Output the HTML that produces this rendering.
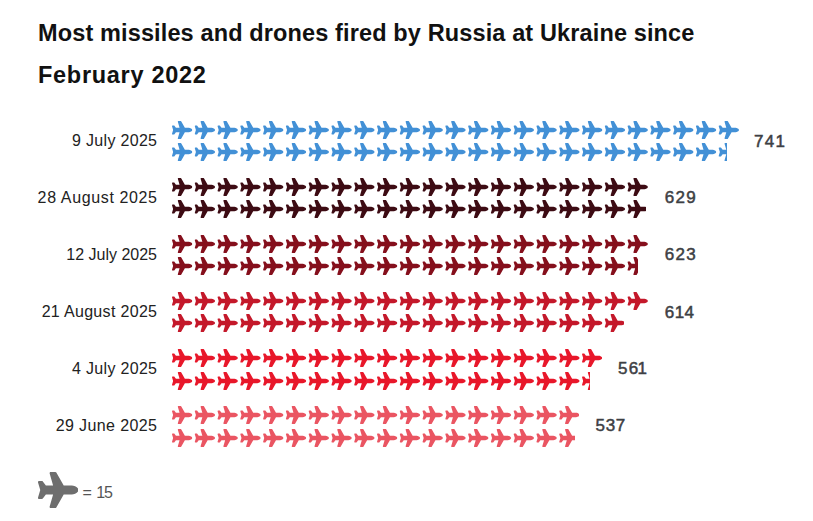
<!DOCTYPE html>
<html><head><meta charset="utf-8"><title>chart</title>
<style>
html,body{margin:0;padding:0;background:#fff;}
body{width:813px;height:521px;position:relative;overflow:hidden;font-family:"Liberation Sans",sans-serif;}
.t{position:absolute;left:38px;font-weight:bold;font-size:23.5px;color:#111;white-space:nowrap;line-height:40px;letter-spacing:0px;}
.l{position:absolute;white-space:nowrap;font-size:16px;color:#222;text-align:right;line-height:20px;}
.n{position:absolute;white-space:nowrap;font-size:17px;color:#3d4044;-webkit-text-stroke:0.5px #3d4044;line-height:20px;letter-spacing:1.3px;}
.r{position:absolute;overflow:hidden;height:18px;}
.r svg{position:absolute;top:0;left:0;}
.k{position:absolute;font-size:16px;color:#555;line-height:20px;white-space:nowrap;}
</style></head><body>
<svg width="0" height="0" style="position:absolute"><defs><path id="p" d="M480 192H365.71L260.61 8.06A16.014 16.014 0 0 0 246.71 0h-65.5c-10.63 0-18.3 10.17-15.38 20.39L214.86 192H112l-43.2-57.6c-3.02-4.03-7.77-6.4-12.8-6.4H16.01C5.6 128-2.04 137.78.49 147.88L32 256 .49 364.12C-2.04 374.22 5.6 384 16.01 384H56c5.04 0 9.78-2.37 12.8-6.4L112 320h102.86l-49.03 171.6c-2.92 10.22 4.75 20.4 15.38 20.4h65.5c5.74 0 11.04-3.08 13.89-8.06L365.71 320H480c35.35 0 96-28.65 96-64s-60.650-64-96-64z"/></defs></svg>
<div class="t" style="top:13.3px;letter-spacing:0.13px">Most missiles and drones fired by Russia at Ukraine since</div>
<div class="t" style="top:54.5px;letter-spacing:0.7px">February 2022</div>

<div class="l" style="right:655.69px;top:130.56px;letter-spacing:0.310px">9 July 2025</div>
<div class="r" style="left:171.90px;top:120.60px;width:566.97px"><svg width="566.97" height="18.00" viewBox="0 0 16127.15 512" fill="#4290d6"><use href="#p" x="0.00"/><use href="#p" x="647.96"/><use href="#p" x="1295.93"/><use href="#p" x="1943.89"/><use href="#p" x="2591.86"/><use href="#p" x="3239.82"/><use href="#p" x="3887.79"/><use href="#p" x="4535.75"/><use href="#p" x="5183.72"/><use href="#p" x="5831.68"/><use href="#p" x="6479.64"/><use href="#p" x="7127.61"/><use href="#p" x="7775.57"/><use href="#p" x="8423.54"/><use href="#p" x="9071.50"/><use href="#p" x="9719.47"/><use href="#p" x="10367.43"/><use href="#p" x="11015.40"/><use href="#p" x="11663.36"/><use href="#p" x="12311.32"/><use href="#p" x="12959.29"/><use href="#p" x="13607.25"/><use href="#p" x="14255.22"/><use href="#p" x="14903.18"/><use href="#p" x="15551.15"/></svg></div>
<div class="r" style="left:171.90px;top:143.20px;width:554.82px"><svg width="566.97" height="18.00" viewBox="0 0 16127.15 512" fill="#4290d6"><use href="#p" x="0.00"/><use href="#p" x="647.96"/><use href="#p" x="1295.93"/><use href="#p" x="1943.89"/><use href="#p" x="2591.86"/><use href="#p" x="3239.82"/><use href="#p" x="3887.79"/><use href="#p" x="4535.75"/><use href="#p" x="5183.72"/><use href="#p" x="5831.68"/><use href="#p" x="6479.64"/><use href="#p" x="7127.61"/><use href="#p" x="7775.57"/><use href="#p" x="8423.54"/><use href="#p" x="9071.50"/><use href="#p" x="9719.47"/><use href="#p" x="10367.43"/><use href="#p" x="11015.40"/><use href="#p" x="11663.36"/><use href="#p" x="12311.32"/><use href="#p" x="12959.29"/><use href="#p" x="13607.25"/><use href="#p" x="14255.22"/><use href="#p" x="14903.18"/><use href="#p" x="15551.15"/></svg></div>
<div class="n" style="left:753.9px;top:131.5px;letter-spacing:1.30px">741</div>
<div class="l" style="right:655.37px;top:187.59px;letter-spacing:0.630px">28 August 2025</div>
<div class="r" style="left:171.90px;top:177.68px;width:475.85px"><svg width="475.85" height="18.00" viewBox="0 0 13535.29 512" fill="#3d0b13"><use href="#p" x="0.00"/><use href="#p" x="647.96"/><use href="#p" x="1295.93"/><use href="#p" x="1943.89"/><use href="#p" x="2591.86"/><use href="#p" x="3239.82"/><use href="#p" x="3887.79"/><use href="#p" x="4535.75"/><use href="#p" x="5183.72"/><use href="#p" x="5831.68"/><use href="#p" x="6479.64"/><use href="#p" x="7127.61"/><use href="#p" x="7775.57"/><use href="#p" x="8423.54"/><use href="#p" x="9071.50"/><use href="#p" x="9719.47"/><use href="#p" x="10367.43"/><use href="#p" x="11015.40"/><use href="#p" x="11663.36"/><use href="#p" x="12311.32"/><use href="#p" x="12959.29"/></svg></div>
<div class="r" style="left:171.90px;top:200.28px;width:474.50px"><svg width="475.85" height="18.00" viewBox="0 0 13535.29 512" fill="#3d0b13"><use href="#p" x="0.00"/><use href="#p" x="647.96"/><use href="#p" x="1295.93"/><use href="#p" x="1943.89"/><use href="#p" x="2591.86"/><use href="#p" x="3239.82"/><use href="#p" x="3887.79"/><use href="#p" x="4535.75"/><use href="#p" x="5183.72"/><use href="#p" x="5831.68"/><use href="#p" x="6479.64"/><use href="#p" x="7127.61"/><use href="#p" x="7775.57"/><use href="#p" x="8423.54"/><use href="#p" x="9071.50"/><use href="#p" x="9719.47"/><use href="#p" x="10367.43"/><use href="#p" x="11015.40"/><use href="#p" x="11663.36"/><use href="#p" x="12311.32"/><use href="#p" x="12959.29"/></svg></div>
<div class="n" style="left:664.8px;top:188.0px;letter-spacing:1.30px">629</div>
<div class="l" style="right:656.00px;top:244.62px;letter-spacing:0.000px">12 July 2025</div>
<div class="r" style="left:171.90px;top:234.76px;width:475.85px"><svg width="475.85" height="18.00" viewBox="0 0 13535.29 512" fill="#850f1c"><use href="#p" x="0.00"/><use href="#p" x="647.96"/><use href="#p" x="1295.93"/><use href="#p" x="1943.89"/><use href="#p" x="2591.86"/><use href="#p" x="3239.82"/><use href="#p" x="3887.79"/><use href="#p" x="4535.75"/><use href="#p" x="5183.72"/><use href="#p" x="5831.68"/><use href="#p" x="6479.64"/><use href="#p" x="7127.61"/><use href="#p" x="7775.57"/><use href="#p" x="8423.54"/><use href="#p" x="9071.50"/><use href="#p" x="9719.47"/><use href="#p" x="10367.43"/><use href="#p" x="11015.40"/><use href="#p" x="11663.36"/><use href="#p" x="12311.32"/><use href="#p" x="12959.29"/></svg></div>
<div class="r" style="left:171.90px;top:257.36px;width:466.40px"><svg width="475.85" height="18.00" viewBox="0 0 13535.29 512" fill="#850f1c"><use href="#p" x="0.00"/><use href="#p" x="647.96"/><use href="#p" x="1295.93"/><use href="#p" x="1943.89"/><use href="#p" x="2591.86"/><use href="#p" x="3239.82"/><use href="#p" x="3887.79"/><use href="#p" x="4535.75"/><use href="#p" x="5183.72"/><use href="#p" x="5831.68"/><use href="#p" x="6479.64"/><use href="#p" x="7127.61"/><use href="#p" x="7775.57"/><use href="#p" x="8423.54"/><use href="#p" x="9071.50"/><use href="#p" x="9719.47"/><use href="#p" x="10367.43"/><use href="#p" x="11015.40"/><use href="#p" x="11663.36"/><use href="#p" x="12311.32"/><use href="#p" x="12959.29"/></svg></div>
<div class="n" style="left:664.8px;top:245.0px;letter-spacing:1.30px">623</div>
<div class="l" style="right:655.68px;top:301.65px;letter-spacing:0.320px">21 August 2025</div>
<div class="r" style="left:171.90px;top:291.84px;width:475.85px"><svg width="475.85" height="18.00" viewBox="0 0 13535.29 512" fill="#c4182a"><use href="#p" x="0.00"/><use href="#p" x="647.96"/><use href="#p" x="1295.93"/><use href="#p" x="1943.89"/><use href="#p" x="2591.86"/><use href="#p" x="3239.82"/><use href="#p" x="3887.79"/><use href="#p" x="4535.75"/><use href="#p" x="5183.72"/><use href="#p" x="5831.68"/><use href="#p" x="6479.64"/><use href="#p" x="7127.61"/><use href="#p" x="7775.57"/><use href="#p" x="8423.54"/><use href="#p" x="9071.50"/><use href="#p" x="9719.47"/><use href="#p" x="10367.43"/><use href="#p" x="11015.40"/><use href="#p" x="11663.36"/><use href="#p" x="12311.32"/><use href="#p" x="12959.29"/></svg></div>
<div class="r" style="left:171.90px;top:314.44px;width:451.72px"><svg width="453.07" height="18.00" viewBox="0 0 12887.32 512" fill="#c4182a"><use href="#p" x="0.00"/><use href="#p" x="647.96"/><use href="#p" x="1295.93"/><use href="#p" x="1943.89"/><use href="#p" x="2591.86"/><use href="#p" x="3239.82"/><use href="#p" x="3887.79"/><use href="#p" x="4535.75"/><use href="#p" x="5183.72"/><use href="#p" x="5831.68"/><use href="#p" x="6479.64"/><use href="#p" x="7127.61"/><use href="#p" x="7775.57"/><use href="#p" x="8423.54"/><use href="#p" x="9071.50"/><use href="#p" x="9719.47"/><use href="#p" x="10367.43"/><use href="#p" x="11015.40"/><use href="#p" x="11663.36"/><use href="#p" x="12311.32"/></svg></div>
<div class="n" style="left:664.8px;top:302.7px;letter-spacing:0.40px">614</div>
<div class="l" style="right:655.69px;top:358.68px;letter-spacing:0.310px">4 July 2025</div>
<div class="r" style="left:171.90px;top:348.92px;width:430.29px"><svg width="430.29" height="18.00" viewBox="0 0 12239.36 512" fill="#e8172a"><use href="#p" x="0.00"/><use href="#p" x="647.96"/><use href="#p" x="1295.93"/><use href="#p" x="1943.89"/><use href="#p" x="2591.86"/><use href="#p" x="3239.82"/><use href="#p" x="3887.79"/><use href="#p" x="4535.75"/><use href="#p" x="5183.72"/><use href="#p" x="5831.68"/><use href="#p" x="6479.64"/><use href="#p" x="7127.61"/><use href="#p" x="7775.57"/><use href="#p" x="8423.54"/><use href="#p" x="9071.50"/><use href="#p" x="9719.47"/><use href="#p" x="10367.43"/><use href="#p" x="11015.40"/><use href="#p" x="11663.36"/></svg></div>
<div class="r" style="left:171.90px;top:371.52px;width:418.14px"><svg width="430.29" height="18.00" viewBox="0 0 12239.36 512" fill="#e8172a"><use href="#p" x="0.00"/><use href="#p" x="647.96"/><use href="#p" x="1295.93"/><use href="#p" x="1943.89"/><use href="#p" x="2591.86"/><use href="#p" x="3239.82"/><use href="#p" x="3887.79"/><use href="#p" x="4535.75"/><use href="#p" x="5183.72"/><use href="#p" x="5831.68"/><use href="#p" x="6479.64"/><use href="#p" x="7127.61"/><use href="#p" x="7775.57"/><use href="#p" x="8423.54"/><use href="#p" x="9071.50"/><use href="#p" x="9719.47"/><use href="#p" x="10367.43"/><use href="#p" x="11015.40"/><use href="#p" x="11663.36"/></svg></div>
<div class="n" style="left:618.0px;top:359.3px;letter-spacing:1.30px">5<span style="letter-spacing:-0.7px">6</span>1</div>
<div class="l" style="right:655.60px;top:415.71px;letter-spacing:0.400px">29 June 2025</div>
<div class="r" style="left:171.90px;top:406.00px;width:407.51px"><svg width="407.51" height="18.00" viewBox="0 0 11591.40 512" fill="#ea5562"><use href="#p" x="0.00"/><use href="#p" x="647.96"/><use href="#p" x="1295.93"/><use href="#p" x="1943.89"/><use href="#p" x="2591.86"/><use href="#p" x="3239.82"/><use href="#p" x="3887.79"/><use href="#p" x="4535.75"/><use href="#p" x="5183.72"/><use href="#p" x="5831.68"/><use href="#p" x="6479.64"/><use href="#p" x="7127.61"/><use href="#p" x="7775.57"/><use href="#p" x="8423.54"/><use href="#p" x="9071.50"/><use href="#p" x="9719.47"/><use href="#p" x="10367.43"/><use href="#p" x="11015.40"/></svg></div>
<div class="r" style="left:171.90px;top:428.60px;width:403.46px"><svg width="407.51" height="18.00" viewBox="0 0 11591.40 512" fill="#ea5562"><use href="#p" x="0.00"/><use href="#p" x="647.96"/><use href="#p" x="1295.93"/><use href="#p" x="1943.89"/><use href="#p" x="2591.86"/><use href="#p" x="3239.82"/><use href="#p" x="3887.79"/><use href="#p" x="4535.75"/><use href="#p" x="5183.72"/><use href="#p" x="5831.68"/><use href="#p" x="6479.64"/><use href="#p" x="7127.61"/><use href="#p" x="7775.57"/><use href="#p" x="8423.54"/><use href="#p" x="9071.50"/><use href="#p" x="9719.47"/><use href="#p" x="10367.43"/><use href="#p" x="11015.40"/></svg></div>
<div class="n" style="left:595.6px;top:416.3px;letter-spacing:0.60px">537</div>
<svg style="position:absolute;left:37.6px;top:472px" width="40.5" height="36" viewBox="0 0 576 512" fill="#6e6e6e"><use href="#p"/></svg>
<div class="k" style="left:82.5px;top:482.7px">= <span style="letter-spacing:-1.3px">1</span>5</div>
</body></html>
